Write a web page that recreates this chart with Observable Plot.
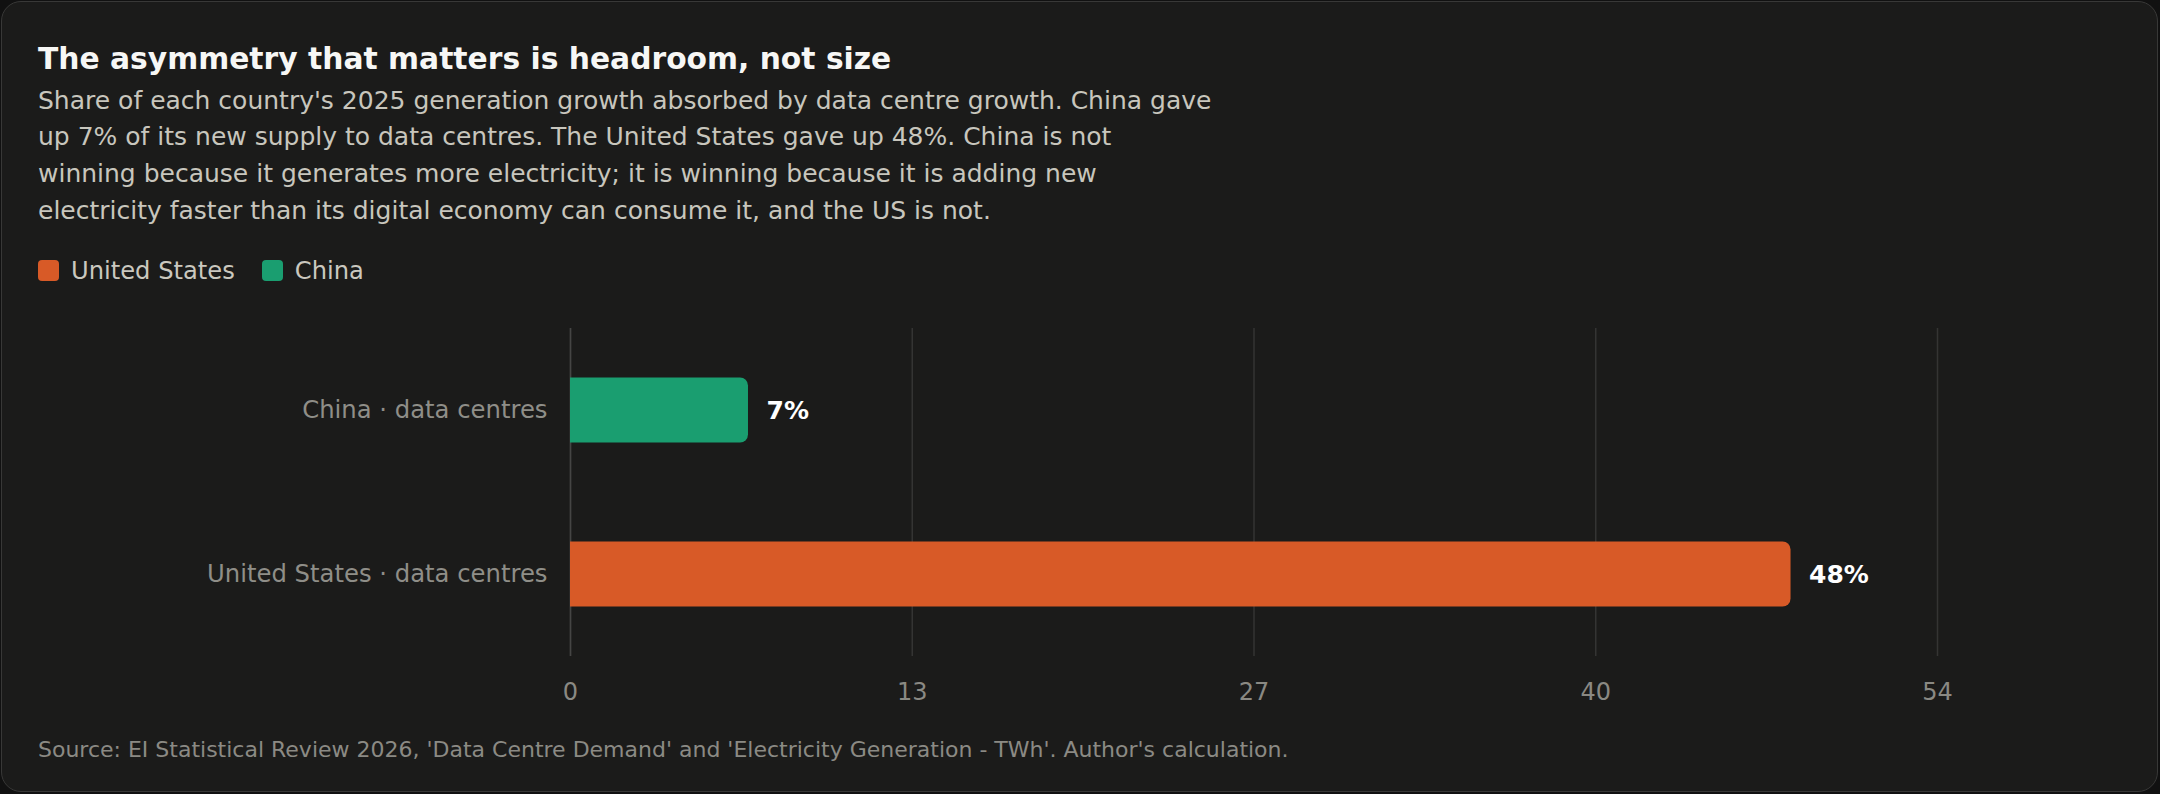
<!DOCTYPE html>
<html>
<head>
<meta charset="utf-8">
<script src="https://cdn.jsdelivr.net/npm/d3@7"></script>
<script src="https://cdn.jsdelivr.net/npm/@observablehq/plot@0.6"></script>
<style>
  html, body { margin: 0; padding: 0; background: #111111; width: 2160px; height: 794px; overflow: hidden; }
  body { position: relative; font-family: "DejaVu Sans", sans-serif; }
  #card { position: absolute; left: 1px; top: 1px; width: 2155px; height: 789px; background: #1b1b1a;
          border: 1.5px solid #383837; border-radius: 20px; }
  .abs { position: absolute; }
  #title { left: 38px; top: 44px; font-size: 29.75px; line-height: 30px; font-weight: bold; color: #f7f7f5; white-space: nowrap; }
  #subtitle { left: 38px; top: 82.5px; width: 1175px; font-size: 25px; line-height: 36.7px; color: #c8c6bd; }
  #legend { left: 38px; top: 255.5px; height: 30px; display: flex; align-items: center; font-size: 24.2px; color: #cac8bf; }
  .item { display: flex; align-items: center; margin-right: 27px; }
  .sw { width: 21px; height: 21px; border-radius: 4px; margin-right: 12px; }
  #chart { left: 38px; top: 301.5px; }
  #source { left: 38px; top: 739px; font-size: 22px; line-height: 22px; color: #8b8a84; white-space: nowrap; }
</style>
</head>
<body>
<div id="card"></div>
<div id="title" class="abs"></div>
<div id="subtitle" class="abs"></div>
<div id="legend" class="abs"></div>
<div id="chart" class="abs"></div>
<div id="source" class="abs"></div>
<script>
// ---- data ----
const categories = ["China · data centres", "United States · data centres"];
const countries = ["China", "United States"];
const shares = [7, 48];                       // % of 2025 generation growth absorbed by data centres
const legendOrder = ["United States", "China"];
const xTicks = [0, 13.44, 26.88, 40.32, 53.76];
const xDomain = [0, 53.76];
const countryColors = ["#1a9e70", "#d85a27"];

const titleText = "The asymmetry that matters is headroom, not size";
const subtitleText = "Share of each country's 2025 generation growth absorbed by data centre growth. China gave up 7% of its new supply to data centres. The United States gave up 48%. China is not winning because it generates more electricity; it is winning because it is adding new electricity faster than its digital economy can consume it, and the US is not.";
const sourceText = "Source: EI Statistical Review 2026, 'Data Centre Demand' and 'Electricity Generation - TWh'. Author's calculation.";

// ---- text ----
document.getElementById("title").textContent = titleText;
document.getElementById("subtitle").textContent = subtitleText;
document.getElementById("source").textContent = sourceText;

const colorOf = c => countryColors[countries.indexOf(c)];
const legend = document.getElementById("legend");
legendOrder.forEach(c => {
  const it = document.createElement("div"); it.className = "item";
  const sw = document.createElement("div"); sw.className = "sw"; sw.style.background = colorOf(c);
  const tx = document.createElement("span"); tx.textContent = c;
  it.appendChild(sw); it.appendChild(tx); legend.appendChild(it);
});

// ---- chart ----
const data = categories.map((c, i) => ({category: c, country: countries[i], share: shares[i]}));

const chart = Plot.plot({
  width: 2082,
  height: 414,
  marginTop: 26,
  marginBottom: 60,
  marginLeft: 532,
  marginRight: 183,
  style: {background: "transparent", color: "#8f8e88", fontFamily: "DejaVu Sans, sans-serif", fontSize: "24px"},
  x: {domain: xDomain, label: null},
  y: {domain: categories, padding: 0, label: null},
  color: {domain: countries, range: countryColors},
  marks: [
    Plot.gridX(xTicks, {stroke: "#343433", strokeOpacity: 1, strokeWidth: 1.5}),
    Plot.ruleX([0], {stroke: "#454544", strokeWidth: 1.5}),
    Plot.barX(data, {x: "share", y: "category", fill: "country", insetTop: 49.5, insetBottom: 49.5, rx2: 8}),
    Plot.text(data, {x: "share", y: "category", text: d => d.share + "%", dx: 18, textAnchor: "start",
                     fill: "#ffffff", fontWeight: "bold", fontSize: 25}),
    Plot.axisX(xTicks, {tickSize: 0, tickPadding: 26, tickFormat: d => String(Math.round(d)), color: "#8a8983", fontSize: 24, label: null}),
    Plot.axisY({tickSize: 0, tickPadding: 23, color: "#8f8e88", fontSize: 24.3, label: null})
  ]
});
document.getElementById("chart").appendChild(chart);
</script>
</body>
</html>
